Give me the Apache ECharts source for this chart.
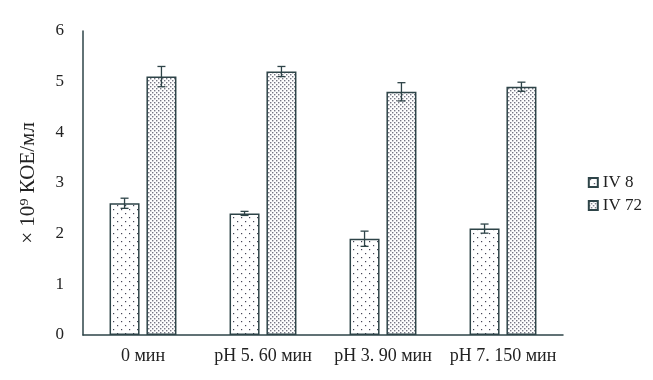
<!DOCTYPE html>
<html><head><meta charset="utf-8">
<script src="https://cdn.jsdelivr.net/npm/echarts@6/dist/echarts.min.js"></script>
<style>html,body{margin:0;padding:0;background:#fff}#c{width:653px;height:380px}</style>
</head><body><div id="c"></div>
<script>
var categories = ['0 мин', 'pH 5. 60 мин', 'pH 3. 90 мин', 'pH 7. 150 мин'];
var seriesNames = ['IV 8', 'IV 72'];
var iv8 = [2.6, 2.4, 1.9, 2.1];
var iv72 = [5.1, 5.2, 4.8, 4.9];
var iv8Err = [0.1, 0.04, 0.15, 0.09];
var iv72Err = [0.2, 0.1, 0.18, 0.09];
var yTicks = [0, 1, 2, 3, 4, 5, 6];

function makePattern(dense) {
  var c = document.createElement('canvas');
  var s = dense ? 4 : 8;
  c.width = s; c.height = s;
  var g = c.getContext('2d');
  g.fillStyle = '#fff'; g.fillRect(0, 0, s, s);
  g.fillStyle = dense ? '#556' : '#445';
  if (dense) {
    g.globalAlpha = 0.8;
    g.fillRect(0, 0, 1.4, 1.4);
    g.fillRect(2, 2, 1.4, 1.4);
  } else {
    g.fillRect(1, 1, 1.2, 1.2);
    g.fillRect(5, 5, 1.2, 1.2);
  }
  return c;
}
var pat1 = { image: makePattern(false), repeat: 'repeat' };
var pat2 = { image: makePattern(true), repeat: 'repeat' };

var FONT = "'Liberation Serif', 'Times New Roman', serif";
var DARK = '#2e4448';
var BW = 0.25, GAP = 0.23;

function errRender(idx, errs) {
  return function (params, api) {
    var i = api.value(0);
    var v = api.value(1);
    var e = errs[i];
    var band = api.size([1, 0])[0];
    var w = band * BW;
    var off = (w + w * GAP) / 2 * (idx === 0 ? -1 : 1);
    var top = api.coord([i, v + e]);
    var bot = api.coord([i, v - e]);
    var x = top[0] + off;
    var cap = 4;
    var st = { stroke: DARK, lineWidth: 1.3 };
    return { type: 'group', children: [
      { type: 'line', shape: { x1: x, y1: top[1], x2: x, y2: bot[1] }, style: st },
      { type: 'line', shape: { x1: x - cap, y1: top[1], x2: x + cap, y2: top[1] }, style: st },
      { type: 'line', shape: { x1: x - cap, y1: bot[1], x2: x + cap, y2: bot[1] }, style: st }
    ]};
  };
}

var chart = echarts.init(document.getElementById('c'));
chart.setOption({
  animation: false,
  backgroundColor: '#fff',
  grid: { left: 83, right: 90, top: 31, bottom: 45 },
  legend: {
    orient: 'vertical', right: 6, top: 169,
    data: seriesNames.map(function (n) { return { name: n, icon: 'rect' }; }),
    itemWidth: 9, itemHeight: 9, itemGap: 6,
    textStyle: { fontFamily: FONT, fontSize: 17, color: '#222' }
  },
  xAxis: {
    type: 'category', data: categories,
    axisLine: { lineStyle: { color: DARK, width: 1.5 } },
    axisTick: { show: false },
    axisLabel: { fontFamily: FONT, fontSize: 18, color: '#222', margin: 12, interval: 0 }
  },
  yAxis: {
    type: 'value', min: yTicks[0], max: yTicks[yTicks.length - 1], interval: 1,
    name: '× 10⁹ КОЕ/мл', nameLocation: 'middle', nameGap: 44, nameRotate: 90,
    nameTextStyle: { fontFamily: FONT, fontSize: 21, color: '#222' },
    axisLine: { show: true, lineStyle: { color: DARK, width: 1.5 } },
    axisTick: { show: false },
    splitLine: { show: false },
    axisLabel: { fontFamily: FONT, fontSize: 17, color: '#222', margin: 19 }
  },
  series: [
    { name: seriesNames[0], type: 'bar', data: iv8, barWidth: (BW * 100) + '%', barGap: (GAP * 100) + '%',
      itemStyle: { color: pat1, borderColor: DARK, borderWidth: 1.5 } },
    { name: seriesNames[1], type: 'bar', data: iv72, barWidth: (BW * 100) + '%', barGap: (GAP * 100) + '%',
      itemStyle: { color: pat2, borderColor: DARK, borderWidth: 1.5 } },
    { type: 'custom', renderItem: errRender(0, iv8Err), data: iv8.map(function (v, i) { return [i, v]; }), z: 5, silent: true },
    { type: 'custom', renderItem: errRender(1, iv72Err), data: iv72.map(function (v, i) { return [i, v]; }), z: 5, silent: true }
  ]
});
</script></body></html>
